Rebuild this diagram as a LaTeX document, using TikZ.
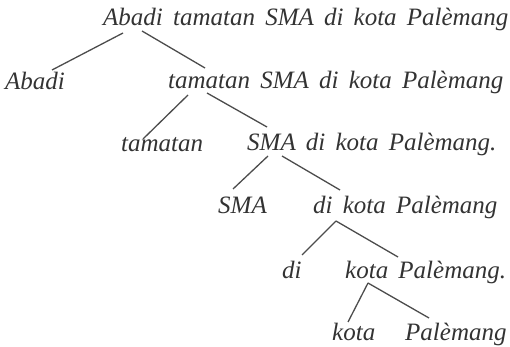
\documentclass[tikz,border=0pt]{standalone}
\usepackage{fontspec}
\setmainfont{Liberation Serif}[WordSpace={1.63}]
\usepackage{tikz}

\begin{document}
\begin{tikzpicture}[
    x=1pt, y=-1pt,
    phrase/.style={anchor=base west, inner sep=0pt, text=black!80, font=\fontsize{25}{30}\selectfont\itshape},
    branch/.style={draw=black!70, line width=1.3pt}
]
\useasboundingbox (0,0) rectangle (510,347);

\node[phrase] (S) at (103,26) {Abadi tamatan SMA di kota Palèmang};
\node[phrase] (Abadi) at (5,90) {Abadi};
\node[phrase] (P1) at (168,89) {tamatan SMA di kota Palèmang};
\node[phrase] (Tamatan) at (121,152) {tamatan};
\node[phrase] (P2) at (247,151) {SMA di kota Palèmang.};
\node[phrase] (SMA) at (218,213) {SMA};
\node[phrase] (P3) at (313,213) {di kota Palèmang};
\node[phrase] (Di) at (282,278) {di};
\node[phrase] (P4) at (345,278) {kota Palèmang.};
\node[phrase] (Kota) at (332,340) {kota};
\node[phrase] (Palemang) at (405,340) {Palèmang};

\draw[branch] ([shift={(20,7)}]S.base west) -- ([shift={(47,-20)}]Abadi.base west);
\draw[branch] ([shift={(39,5)}]S.base west) -- ([shift={(37,-21)}]P1.base west);
\draw[branch] ([shift={(20,6)}]P1.base west) -- ([shift={(22,-13)}]Tamatan.base west);
\draw[branch] ([shift={(39,4)}]P1.base west) -- ([shift={(20,-24)}]P2.base west);
\draw[branch] ([shift={(21,5)}]P2.base west) -- ([shift={(15,-24)}]SMA.base west);
\draw[branch] ([shift={(35,5)}]P2.base west) -- ([shift={(27,-23)}]P3.base west);
\draw[branch] ([shift={(23,8)}]P3.base west) -- ([shift={(20,-23)}]Di.base west);
\draw[branch] ([shift={(23,8)}]P3.base west) -- ([shift={(53,-21)}]P4.base west);
\draw[branch] ([shift={(23,5)}]P4.base west) -- ([shift={(16,-18)}]Kota.base west);
\draw[branch] ([shift={(23,5)}]P4.base west) -- ([shift={(24,-22)}]Palemang.base west);
\end{tikzpicture}
\end{document}
